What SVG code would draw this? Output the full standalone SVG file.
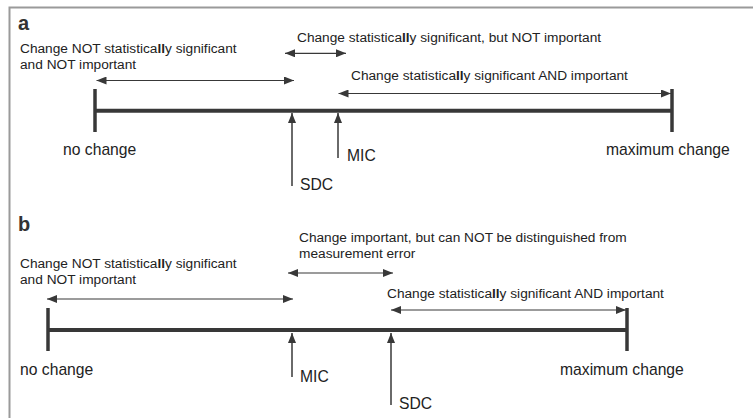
<svg xmlns="http://www.w3.org/2000/svg" width="753" height="418" viewBox="0 0 753 418">
<style>
.t{font-family:"Liberation Sans",Arial,sans-serif;font-size:13.7px;fill:#222}
.l{font-family:"Liberation Sans",Arial,sans-serif;font-size:15.7px;fill:#222}
.h{font-family:"Liberation Sans",Arial,sans-serif;font-size:20px;font-weight:bold;fill:#333}
.b{font-weight:bold}
.axis{stroke:#383838;stroke-width:4;fill:none}
.tick{stroke:#383838;stroke-width:3.5;fill:none}
.dbl{stroke:#383838;stroke-width:1.2;fill:none;marker-start:url(#ah);marker-end:url(#ah)}
.up{stroke:#383838;stroke-width:1.5;fill:none;marker-end:url(#ah)}
</style>
<defs>
<marker id="ah" viewBox="0 0 10 8" refX="10" refY="4" markerWidth="10" markerHeight="8" markerUnits="userSpaceOnUse" orient="auto-start-reverse">
<path d="M0,0 L10,4 L0,8 z" fill="#383838"/>
</marker>
</defs>
<rect x="0" y="0" width="753" height="418" fill="#fff"/>
<path d="M9.5,418 V7.5 H753" stroke="#9a9a9a" stroke-width="2" fill="none"/>

<g id="panel-a">
<text class="h" x="18" y="30">a</text>
<g id="a-axis">
<line class="axis" x1="95" y1="110.8" x2="672" y2="110.8"/>
<line class="tick" x1="95" y1="89" x2="95" y2="132"/>
<line class="tick" x1="672" y1="89" x2="672" y2="132"/>
<text class="l" x="63" y="155">no change</text>
<text class="l" x="606" y="155">maximum change</text>
</g>
<g id="a-sdc">
<text class="l" x="300" y="190">SDC</text>
</g>
<g id="a-mic">
<text class="l" x="347" y="161">MIC</text>
</g>
<g id="a-zone1">
<text class="t" x="20" y="53">Change NOT statistica<tspan class="b">ll</tspan>y significant</text>
<text class="t" x="20" y="68.5">and NOT important</text>
</g>
<g id="a-zone2">
<text class="t" x="297" y="42">Change statistica<tspan class="b">ll</tspan>y significant, but NOT important</text>
</g>
<g id="a-zone3">
<text class="t" x="351" y="80">Change statistica<tspan class="b">ll</tspan>y significant AND important</text>
</g>
</g>

<g id="panel-b">
<text class="h" x="18" y="231">b</text>
<g id="b-axis">
<line class="axis" x1="48" y1="330" x2="627" y2="330"/>
<line class="tick" x1="48" y1="308" x2="48" y2="351"/>
<line class="tick" x1="627" y1="308" x2="627" y2="351"/>
<text class="l" x="20" y="375">no change</text>
<text class="l" x="560" y="375">maximum change</text>
</g>
<g id="b-mic">
<text class="l" x="300" y="382">MIC</text>
</g>
<g id="b-sdc">
<text class="l" x="399" y="409">SDC</text>
</g>
<g id="b-zone1">
<text class="t" x="20" y="268">Change NOT statistica<tspan class="b">ll</tspan>y significant</text>
<text class="t" x="20" y="283.5">and NOT important</text>
</g>
<g id="b-zone2">
<text class="t" x="299" y="242">Change important, but can NOT be distinguished from</text>
<text class="t" x="299" y="257.5">measurement error</text>
</g>
<g id="b-zone3">
<text class="t" x="387" y="298">Change statistica<tspan class="b">ll</tspan>y significant AND important</text>
</g>
</g>

<g id="connectors">
<line class="dbl" x1="96.5" y1="80.5" x2="294" y2="80.5"/>
<line class="dbl" x1="285" y1="53.3" x2="346" y2="53.3"/>
<line class="dbl" x1="338.5" y1="93.5" x2="671" y2="93.5"/>
<line class="up" x1="292" y1="186" x2="292" y2="113"/>
<line class="up" x1="338" y1="158" x2="338" y2="113"/>
<line class="dbl" x1="47" y1="299" x2="293" y2="299"/>
<line class="dbl" x1="288" y1="273" x2="393" y2="273"/>
<line class="dbl" x1="391" y1="310" x2="626" y2="310"/>
<line class="up" x1="292" y1="377" x2="292" y2="333"/>
<line class="up" x1="391" y1="405" x2="391" y2="333"/>
</g>
</svg>
